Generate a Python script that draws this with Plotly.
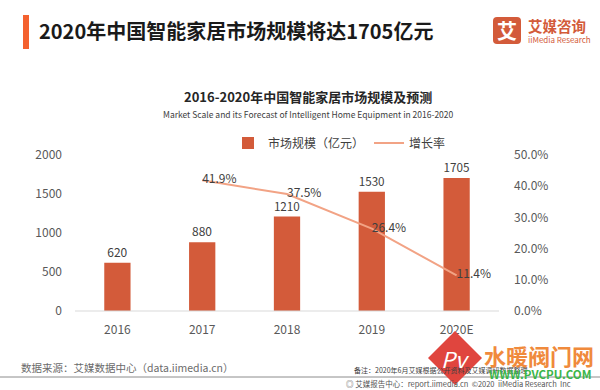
import plotly.graph_objects as go

years = ["2016", "2017", "2018", "2019", "2020E"]
market_scale = [620, 880, 1210, 1530, 1705]
growth_years = ["2017", "2018", "2019", "2020E"]
growth_rate = [0.419, 0.375, 0.264, 0.114]
growth_labels = ["41.9%", "37.5%", "26.4%", "11.4%"]
left_ticks = [0, 500, 1000, 1500, 2000]
right_ticks = [0, 0.1, 0.2, 0.3, 0.4, 0.5]

W, H = 600, 390
L, R, T, B = 75, 499, 155, 311
FONT = "Noto Sans CJK SC"
BAR_C = "#D35B3A"
LINE_C = "#F2A385"


def px(x):
    return (x - L) / (R - L)


def py(y):
    return (B - y) / (B - T)


fig = go.Figure()
fig.add_trace(go.Bar(
    x=years, y=market_scale, name="市场规模（亿元）",
    marker=dict(color=BAR_C, line=dict(width=0)), width=0.31,
    text=[str(v) for v in market_scale], textposition="outside",
    textfont=dict(size=12, color="#404040", family=FONT), cliponaxis=False,
))
fig.add_trace(go.Scatter(
    x=growth_years, y=growth_rate, name="增长率", yaxis="y2",
    mode="lines+text", line=dict(color=LINE_C, width=2),
    text=growth_labels, textposition="middle right",
    textfont=dict(size=12, color="#404040", family=FONT),
    cliponaxis=False,
))

annotations = []


def ann(x, y, text, size, color, anchor="left", bold=False, **kw):
    t = f"<b>{text}</b>" if bold else text
    annotations.append(dict(
        x=px(x), y=py(y), xref="paper", yref="paper", text=t, showarrow=False,
        xanchor=anchor, yanchor="middle", font=dict(size=size, color=color, family=FONT), **kw,
    ))


ann(37, 31, "2020年中国智能家居市场规模将达1705亿元", 20, "#1a1a1a", bold=True)
ann(308, 96, "2016-2020年中国智能家居市场规模及预测", 13, "#262626", anchor="center", bold=True)
ann(308, 114, "Market Scale and its Forecast of Intelligent Home Equipment in 2016-2020", 8.5, "#404040", anchor="center")
ann(526, 25, "艾媒咨询", 14.5, "#D35B3A", bold=True)
ann(526, 39, "iiMedia Research", 8, "#D35B3A")
ann(507, 31, "艾", 20, "white", anchor="center", bold=True)
ann(19, 367, "数据来源：艾媒数据中心（data.iimedia.cn）", 10.5, "#6b6b6b")
ann(352, 370, "备注：2020年6月艾媒根据公开资料及艾媒调研数据整理", 7, "#404040")
ann(344, 383, "◎ 艾媒报告中心：report.iimedia.cn  ©2020  iiMedia Research  Inc", 7.5, "#555555")
ann(539, 355, "水暖阀门网", 22, "#F08A3C", anchor="center", bold=True)
ann(540, 374, "WWW.PVCPU.COM", 11.5, "#3BB54A", anchor="center", bold=True)
ann(455, 358, "<i>Pv</i>", 22, "white", anchor="center")

shapes = [
    dict(type="rect", xref="paper", yref="paper", x0=px(23), x1=px(29), y0=py(15), y1=py(49),
         fillcolor="#F4612F", line=dict(width=0), layer="above"),
    dict(type="line", xref="paper", yref="paper", x0=px(0), x1=px(600), y0=py(377), y1=py(377),
         line=dict(color="#8c8c8c", width=1)),
    dict(type="line", xref="paper", yref="paper", x0=0, x1=1, y0=0, y1=0,
         line=dict(color="#D9D9D9", width=1)),
]


def rounded_rect(x0, y0, x1, y1, r):
    return (f"M {px(x0 + r)} {py(y0)} L {px(x1 - r)} {py(y0)} Q {px(x1)} {py(y0)} {px(x1)} {py(y0 + r)} "
            f"L {px(x1)} {py(y1 - r)} Q {px(x1)} {py(y1)} {px(x1 - r)} {py(y1)} "
            f"L {px(x0 + r)} {py(y1)} Q {px(x0)} {py(y1)} {px(x0)} {py(y1 - r)} "
            f"L {px(x0)} {py(y0 + r)} Q {px(x0)} {py(y0)} {px(x0 + r)} {py(y0)} Z")


shapes.append(dict(type="path", xref="paper", yref="paper", path=rounded_rect(493, 17, 521, 44, 4),
                   fillcolor="#D35B3A", line=dict(width=0), layer="below"))

cx, cy, s = 455, 358, 27
diamond = (f"M {px(cx)} {py(cy - s)} Q {px(cx + 4)} {py(cy - s + 4)} {px(cx + s)} {py(cy)} "
           f"Q {px(cx + 4)} {py(cy + s - 4)} {px(cx)} {py(cy + s)} "
           f"Q {px(cx - 4)} {py(cy + s - 4)} {px(cx - s)} {py(cy)} "
           f"Q {px(cx - 4)} {py(cy - s + 4)} {px(cx)} {py(cy - s)} Z")
shapes.append(dict(type="path", xref="paper", yref="paper", path=diamond,
                   fillcolor="#E0453E", line=dict(width=0), layer="above"))

fig.update_layout(
    width=W, height=H,
    margin=dict(l=L, r=W - R, t=T, b=H - B, pad=0, autoexpand=False),
    paper_bgcolor="white", plot_bgcolor="white",
    font=dict(family=FONT, size=12, color="#595959"),
    showlegend=True,
    legend=dict(orientation="h", x=px(228), xanchor="left", y=py(143), yanchor="middle",
                font=dict(size=12, color="#404040", family=FONT), bgcolor="rgba(0,0,0,0)",
                itemwidth=30, tracegroupgap=0),
    xaxis=dict(type="category", categoryorder="array", categoryarray=years,
               range=[-0.5, 4.5], autorange=False,
               showgrid=False, showline=False, zeroline=False, ticks="",
               tickfont=dict(size=12, color="#595959"), ticklabelstandoff=10),
    yaxis=dict(range=[0, 2000], autorange=False, tickvals=left_ticks, showgrid=False,
               zeroline=False, showline=False, ticks="", tickfont=dict(size=12, color="#595959"),
               ticklabelstandoff=12),
    yaxis2=dict(range=[0, 0.5], autorange=False, tickvals=right_ticks, tickformat=".1%",
                overlaying="y", side="right", showgrid=False, zeroline=False, showline=False,
                ticks="", tickfont=dict(size=12, color="#595959"), ticklabelstandoff=14),
    annotations=annotations,
    shapes=shapes,
)

fig.write_html("out.html", config={"displayModeBar": False},
               post_script="document.body.style.margin='0';document.body.style.padding='0';")
